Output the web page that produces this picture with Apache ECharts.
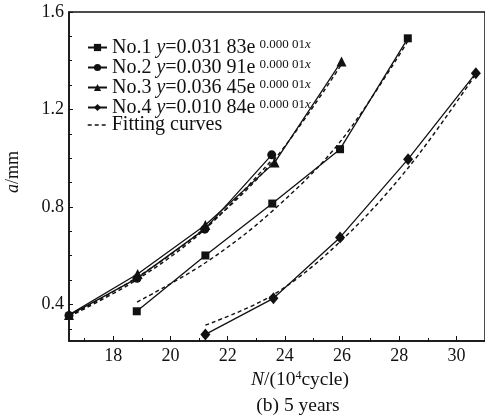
<!DOCTYPE html>
<html>
<head>
<meta charset="utf-8">
<script src="https://cdn.jsdelivr.net/npm/echarts@6/dist/echarts.min.js"></script>
<style>
html,body{margin:0;padding:0;background:#fff;}
#chart{width:485px;height:417px;}
</style>
</head>
<body>
<div id="chart"></div>
<script>
// ---- data ----
const xNo1 = [18.82, 21.22, 23.56, 25.93, 28.30];
const aNo1 = [0.372, 0.601, 0.814, 1.037, 1.492];
const xNo2 = [16.45, 18.83, 21.20, 23.54];
const aNo2 = [0.355, 0.507, 0.709, 1.014];
const xNo3 = [16.45, 18.85, 21.22, 23.64, 25.98];
const aNo3 = [0.357, 0.525, 0.726, 0.982, 1.397];
const xNo4 = [21.22, 23.60, 25.93, 28.31, 30.68];
const aNo4 = [0.277, 0.425, 0.675, 0.996, 1.349];

const xFit1 = [18.83, 21.22, 23.58, 25.95, 28.30];
const aFit1 = [0.410, 0.571, 0.785, 1.070, 1.480];
const xFit2 = [16.45, 18.83, 21.20, 23.56];
const aFit2 = [0.350, 0.502, 0.708, 0.995];
const xFit3 = [16.45, 18.84, 21.22, 23.60, 25.98];
const aFit3 = [0.352, 0.512, 0.716, 0.990, 1.385];
const xFit4 = [21.22, 23.60, 25.93, 28.31, 30.68];
const aFit4 = [0.315, 0.440, 0.657, 0.960, 1.345];

const seriesNames = ['No.1', 'No.2', 'No.3', 'No.4'];
const coefLabels = ['0.031 83', '0.030 91', '0.036 45', '0.010 84'];
const expLabel = '0.000 01';
const fitName = 'Fitting curves';

const xMajorTicks = [18, 20, 22, 24, 26, 28, 30];
const xMinorTicks = [17, 19, 21, 23, 25, 27, 29];
const yMajorTicks = [0.4, 0.8, 1.2, 1.6];
const yMinorTicks = [0.3, 0.5, 0.6, 0.7, 0.9, 1.0, 1.1, 1.3, 1.4, 1.5];

const X_MIN = 16.45, X_MAX = 31.0, Y_MIN = 0.25, Y_MAX = 1.6;

// ---- build ----
const FONT = '"Liberation Serif", "Times New Roman", serif';
const INK = '#111';
const zip = (xs, ys) => xs.map((x, i) => [x, ys[i]]);

const symbols = ['rect', 'circle', 'triangle', 'diamond'];
const symSizes = [8, 9, 10, [10, 12]];
const dataX = [xNo1, xNo2, xNo3, xNo4];
const dataA = [aNo1, aNo2, aNo3, aNo4];
const fitX = [xFit1, xFit2, xFit3, xFit4];
const fitA = [aFit1, aFit2, aFit3, aFit4];

const series = [];
for (let k = 0; k < 4; k++) {
  series.push({
    name: fitName, type: 'line', xAxisIndex: 0, yAxisIndex: 0,
    data: zip(fitX[k], fitA[k]), smooth: 0.35, symbol: 'none',
    lineStyle: {color: INK, width: 1.4, type: [4, 3]}, itemStyle: {color: INK},
    z: 2, silent: true
  });
}
for (let k = 0; k < 4; k++) {
  series.push({
    name: seriesNames[k], type: 'line', xAxisIndex: 0, yAxisIndex: 0,
    data: zip(dataX[k], dataA[k]), symbol: symbols[k], symbolSize: symSizes[k],
    showAllSymbol: true, clip: false,
    lineStyle: {color: INK, width: 1.3}, itemStyle: {color: INK, borderWidth: 0},
    z: 3, silent: true
  });
}

const richLegend = {
  t: {fontFamily: FONT, fontSize: 20, color: INK, lineHeight: 18.3},
  i: {fontFamily: FONT, fontSize: 20, color: INK, fontStyle: 'italic', lineHeight: 18.3},
  s: {fontFamily: FONT, fontSize: 13, color: INK, lineHeight: 11, verticalAlign: 'top', padding: [0, 0, 0, 4]},
  si: {fontFamily: FONT, fontSize: 13, color: INK, fontStyle: 'italic', lineHeight: 11, verticalAlign: 'top'}
};

const option = {
  backgroundColor: '#fff',
  animation: false,
  grid: [
    {left: 69, top: 12, right: -2, bottom: 76, show: true, borderColor: INK, borderWidth: 1.5, backgroundColor: 'transparent'},
    {left: 69, top: 12, right: -2, bottom: 76, show: false}
  ],
  xAxis: [
    {type: 'value', gridIndex: 0, min: X_MIN, max: X_MAX,
     axisLine: {show: true, lineStyle: {color: INK, width: 1.5}},
     axisTick: {show: true, inside: true, length: 5, customValues: xMajorTicks, lineStyle: {color: INK, width: 1}},
     axisLabel: {show: true, customValues: xMajorTicks, margin: 6, fontFamily: FONT, fontSize: 18, color: INK,
                 formatter: v => String(Math.round(v))},
     splitLine: {show: false}},
    {type: 'value', gridIndex: 1, min: X_MIN, max: X_MAX,
     axisLine: {show: false},
     axisTick: {show: true, inside: true, length: 3, customValues: xMinorTicks, lineStyle: {color: INK, width: 1}},
     axisLabel: {show: false}, splitLine: {show: false}}
  ],
  yAxis: [
    {type: 'value', gridIndex: 0, min: Y_MIN, max: Y_MAX,
     axisLine: {show: true, lineStyle: {color: INK, width: 1.5}},
     axisTick: {show: true, inside: true, length: 4, customValues: yMajorTicks, lineStyle: {color: INK, width: 1}},
     axisLabel: {show: true, customValues: yMajorTicks, margin: 5, fontFamily: FONT, fontSize: 18, color: INK,
                 formatter: v => v.toFixed(1)},
     splitLine: {show: false}},
    {type: 'value', gridIndex: 1, min: Y_MIN, max: Y_MAX,
     axisLine: {show: false},
     axisTick: {show: true, inside: true, length: 3, customValues: yMinorTicks, lineStyle: {color: INK, width: 1}},
     axisLabel: {show: false}, splitLine: {show: false}}
  ],
  legend: [
    {data: seriesNames, orient: 'vertical', left: 87, top: 37.5, padding: 0, itemGap: 0,
     itemWidth: 19, itemHeight: 9, selectedMode: false,
     textStyle: {fontFamily: FONT, fontSize: 20, color: INK, rich: richLegend},
     formatter: name => {
       const k = seriesNames.indexOf(name);
       return '{t|' + name + ' }{i|y}{t|=' + coefLabels[k] + 'e}{s|' + expLabel + '}{si|x}';
     }},
    {data: [fitName], orient: 'vertical', left: 87, top: 115, padding: 0, itemGap: 0,
     itemWidth: 19, itemHeight: 9, selectedMode: false,
     itemStyle: {color: 'transparent', borderColor: 'transparent', borderWidth: 0, opacity: 0},
     lineStyle: {color: INK, width: 1.4, type: [4, 3]},
     textStyle: {fontFamily: FONT, fontSize: 20, color: INK, lineHeight: 18.3}}
  ],
  graphic: [
    {type: 'text', x: 13, y: 172, rotation: Math.PI / 2,
     style: {text: '{i|a}/mm', fontFamily: FONT, fontSize: 18, fill: INK, align: 'center', verticalAlign: 'middle',
             rich: {i: {fontFamily: FONT, fontSize: 18, fontStyle: 'italic', fill: INK}}}},
    {type: 'text', x: 300, y: 380,
     style: {text: '{i|N}/(10{s|4}cycle)', fontFamily: FONT, fontSize: 19.5, fill: INK, align: 'center', verticalAlign: 'middle',
             rich: {i: {fontFamily: FONT, fontSize: 19.5, fontStyle: 'italic', fill: INK, lineHeight: 20},
                    s: {fontFamily: FONT, fontSize: 12, fill: INK, lineHeight: 12, verticalAlign: 'top'}}}},
    {type: 'text', x: 298, y: 406,
     style: {text: '(b) 5 years', fontFamily: FONT, fontSize: 19.5, fill: INK, align: 'center', verticalAlign: 'middle'}}
  ],
  series: series
};

const chart = echarts.init(document.getElementById('chart'), null, {renderer: 'canvas'});
chart.setOption(option);
</script>
</body>
</html>
